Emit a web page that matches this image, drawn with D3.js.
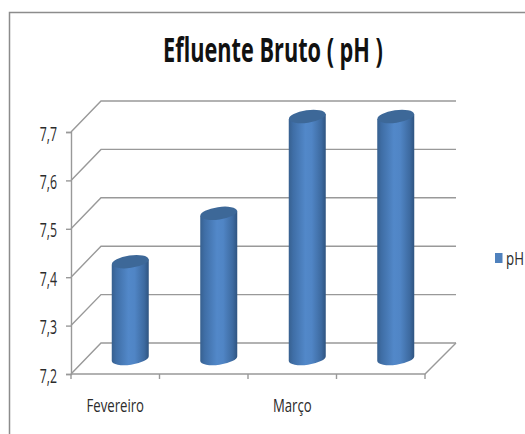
<!DOCTYPE html>
<html>
<head>
<meta charset="utf-8">
<script src="https://cdn.jsdelivr.net/npm/d3@7/dist/d3.min.js"></script>
<style>
html,body{margin:0;padding:0;background:#fff;overflow:hidden}
text{font-family:"Open Sans",sans-serif;fill:#2b2b2b}
</style>
</head>
<body>
<svg id="chart" width="525" height="434"></svg>
<script>
// Monthly pH readings of the raw effluent
const categories = ["Fevereiro", "", "Março", ""];
const values = [7.4, 7.5, 7.7, 7.7];
const yTicks = [7.2, 7.3, 7.4, 7.5, 7.6, 7.7];
const seriesName = "pH";
const chartTitle = "Efluente Bruto ( pH )";

const svg = d3.select("#chart");

// Front plane of the 3D box and the oblique depth offset of the back wall
const x = d3.scaleBand().domain(d3.range(categories.length)).range([71, 425]);
const y = d3.scaleLinear().domain([7.2, 7.7]).range([374, 132]);
const depth = {dx: 30, dy: -31};
const gridCol = "#999999";

// Horizontal shading of the cylinders
const defs = svg.append("defs");
const grad = defs.append("linearGradient").attr("id", "cyl");
[[0, "#37608f"], [0.12, "#3f6ea6"], [0.45, "#5288c9"], [0.62, "#5085c5"], [0.88, "#3d6aa0"], [1, "#2f5480"]]
  .forEach(([o, c]) => grad.append("stop").attr("offset", o).attr("stop-color", c));

// Outer frame
svg.append("path").attr("d", "M9.5,434V12.5H525").attr("fill", "none").attr("stroke", "#8c8c8c").attr("stroke-width", 1.5);

// Title
svg.append("text").attr("transform", "translate(273,62) scale(0.835,1.3)").attr("text-anchor", "middle")
  .style("font-size", "26px").style("font-weight", "bold").style("fill", "#111").text(chartTitle);

// Back wall gridlines with their side-wall diagonals
const grid = svg.append("g").attr("fill", "none").attr("stroke", gridCol).attr("stroke-width", 1.4);
yTicks.forEach(t => {
  grid.append("path").attr("d", d3.line()([
    [x.range()[0], y(t)],
    [x.range()[0] + depth.dx, y(t) + depth.dy],
    [x.range()[1] + depth.dx + 1, y(t) + depth.dy]
  ]));
});
// Floor: front edge and right-hand diagonal
grid.append("path").attr("d", d3.line()([
  [x.range()[0], y(7.2)], [x.range()[1], y(7.2)],
  [x.range()[1] + depth.dx + 1, y(7.2) + depth.dy]
]));

// Value axis
const yAxis = d3.axisLeft(y).tickValues(yTicks).tickSize(5).tickPadding(0)
  .tickFormat(d => d3.format(".1f")(d).replace(".", ","));
const gy = svg.append("g").attr("transform", "translate(71,0)").call(yAxis);
gy.select(".domain").attr("stroke", gridCol).attr("stroke-width", 1.4);
gy.selectAll(".tick line").attr("stroke", gridCol).attr("stroke-width", 1.4);
gy.selectAll(".tick text").attr("fill", null).style("font-size", "14px")
  .attr("x", 0).attr("y", 0).attr("dy", "0.36em")
  .attr("transform", "translate(-14,1) scale(0.88,1.4)");

// Category axis
const xTickVals = d3.range(categories.length + 1).map(i => x.range()[0] + i * x.step());
const gx = svg.append("g").attr("stroke", gridCol).attr("stroke-width", 1.4);
gx.selectAll("line").data(xTickVals).join("line")
  .attr("x1", d => d).attr("x2", d => d).attr("y1", y(7.2)).attr("y2", y(7.2) + 5);
svg.append("g").selectAll("text").data(categories).join("text")
  .attr("text-anchor", "middle")
  .attr("transform", (d, i) => `translate(${x(i) + x.bandwidth() / 2},412) scale(0.94,1.25)`)
  .style("font-size", "14px").text(d => d);

// Cylinders stand on the middle of the floor depth
const barRx = 18.5, barRy = 6.2, tilt = -8;
const cx = i => x(i) + x.bandwidth() / 2 + depth.dx / 2;
const baseY = y(7.2) + depth.dy / 2;
const topY = v => y(v) + depth.dy / 2;
const bars = svg.append("g").selectAll("g").data(values).join("g");
bars.append("path").attr("fill", "url(#cyl)").attr("d", (v, i) => {
  const c = cx(i), lift = barRx * Math.sin(-tilt * Math.PI / 180);
  return `M${c - barRx},${topY(v) + lift}L${c + barRx},${topY(v) - lift}` +
    `L${c + barRx},${baseY - lift}A${barRx},${barRy} ${tilt} 0 1 ${c - barRx},${baseY + lift}Z`;
});
bars.append("ellipse").attr("fill", "#3d6898")
  .attr("cx", 0).attr("cy", 0).attr("rx", barRx).attr("ry", barRy)
  .attr("transform", (v, i) => `translate(${cx(i)},${topY(v)}) rotate(${tilt})`);

// Legend
const legend = svg.append("g").attr("transform", "translate(495,253)");
legend.append("rect").attr("width", 7.5).attr("height", 10).attr("fill", "#4f81bd");
legend.append("text").attr("transform", "translate(11,11.5) scale(0.95,1.3)").style("font-size", "14px").text(seriesName);
</script>
</body>
</html>
